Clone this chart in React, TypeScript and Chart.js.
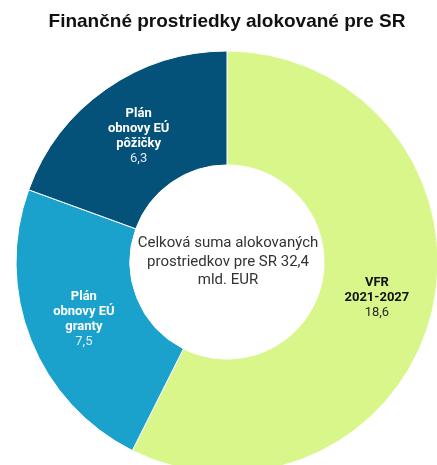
import React, { useEffect, useRef } from "react";
import { Chart, registerables } from "chart.js";

Chart.register(...registerables);

const titleText = "Finančné prostriedky alokované pre SR";
const categories = ["VFR 2021-2027", "Plán obnovy EÚ granty", "Plán obnovy EÚ pôžičky"];
const labelLines = [["VFR", "2021-2027"], ["Plán", "obnovy EÚ", "granty"], ["Plán", "obnovy EÚ", "pôžičky"]];
const values = [18.6, 7.5, 6.3];
const sliceColors = ["#d8f68a", "#1aa2cd", "#045279"];
const labelColors = ["#111111", "#ffffff", "#ffffff"];
const valueColors = ["#2a2a2a", "rgba(255,255,255,0.88)", "rgba(255,255,255,0.88)"];
const centerLines = ["Celková suma alokovaných", "prostriedkov pre SR 32,4", "mld. EUR"];

const fmt = (v: number) => v.toFixed(1).replace(".", ",");

const labelPlugin = {
  id: "sliceLabels",
  afterDatasetsDraw(chart: any) {
    const ctx = chart.ctx;
    const meta = chart.getDatasetMeta(0);
    ctx.save();
    ctx.textAlign = "center";
    ctx.textBaseline = "middle";
    meta.data.forEach((arc: any, i: number) => {
      const { x, y } = arc.tooltipPosition(false);
      const lines = labelLines[i];
      const n = lines.length + 1;
      const lh = 15;
      const startY = y - ((n - 1) * lh) / 2;
      ctx.font = "bold 13px Roboto";
      ctx.fillStyle = labelColors[i];
      lines.forEach((l, j) => ctx.fillText(l, x, startY + j * lh));
      ctx.font = "13px Roboto";
      ctx.fillStyle = valueColors[i];
      ctx.fillText(fmt(values[i]), x, startY + lines.length * lh);
    });
    const arc0 = meta.data[0];
    const cx = arc0.x;
    const cy = arc0.y;
    ctx.font = "15px Roboto";
    ctx.fillStyle = "#333333";
    const clh = 18.3;
    const sy = cy - ((centerLines.length - 1) * clh) / 2;
    centerLines.forEach((l, j) => ctx.fillText(l, cx + 1, sy + j * clh));
    ctx.restore();
  },
};

export default function App() {
  const ref = useRef<HTMLCanvasElement | null>(null);
  useEffect(() => {
    if (!ref.current) return;
    const chart = new Chart(ref.current, {
      type: "doughnut",
      data: {
        labels: categories,
        datasets: [
          {
            data: values,
            backgroundColor: sliceColors,
            borderColor: "#ffffff",
            borderWidth: 1,
            clip: false,
          } as any,
        ],
      },
      options: {
        animation: false,
        responsive: false,
        devicePixelRatio: 1,
        radius: 211,
        cutout: "46%",
        rotation: 0,
        layout: { padding: { left: 17, right: 0, top: 0, bottom: 0 } },
        plugins: {
          legend: { display: false },
          tooltip: { enabled: false },
          title: {
            display: true,
            text: titleText,
            color: "#111111",
            font: { family: "Liberation Sans", size: 19, weight: "bold", lineHeight: 1.2 },
            padding: { top: 10.6, bottom: 25.6 },
          },
        },
      } as any,
      plugins: [labelPlugin],
    });
    return () => chart.destroy();
  }, []);
  return (
    <div style={{ position: "fixed", left: 0, top: 0, width: 437, height: 465, overflow: "hidden", background: "#fff" }}>
      <canvas ref={ref} width={437} height={465} style={{ width: 437, height: 465, display: "block" }} />
    </div>
  );
}
